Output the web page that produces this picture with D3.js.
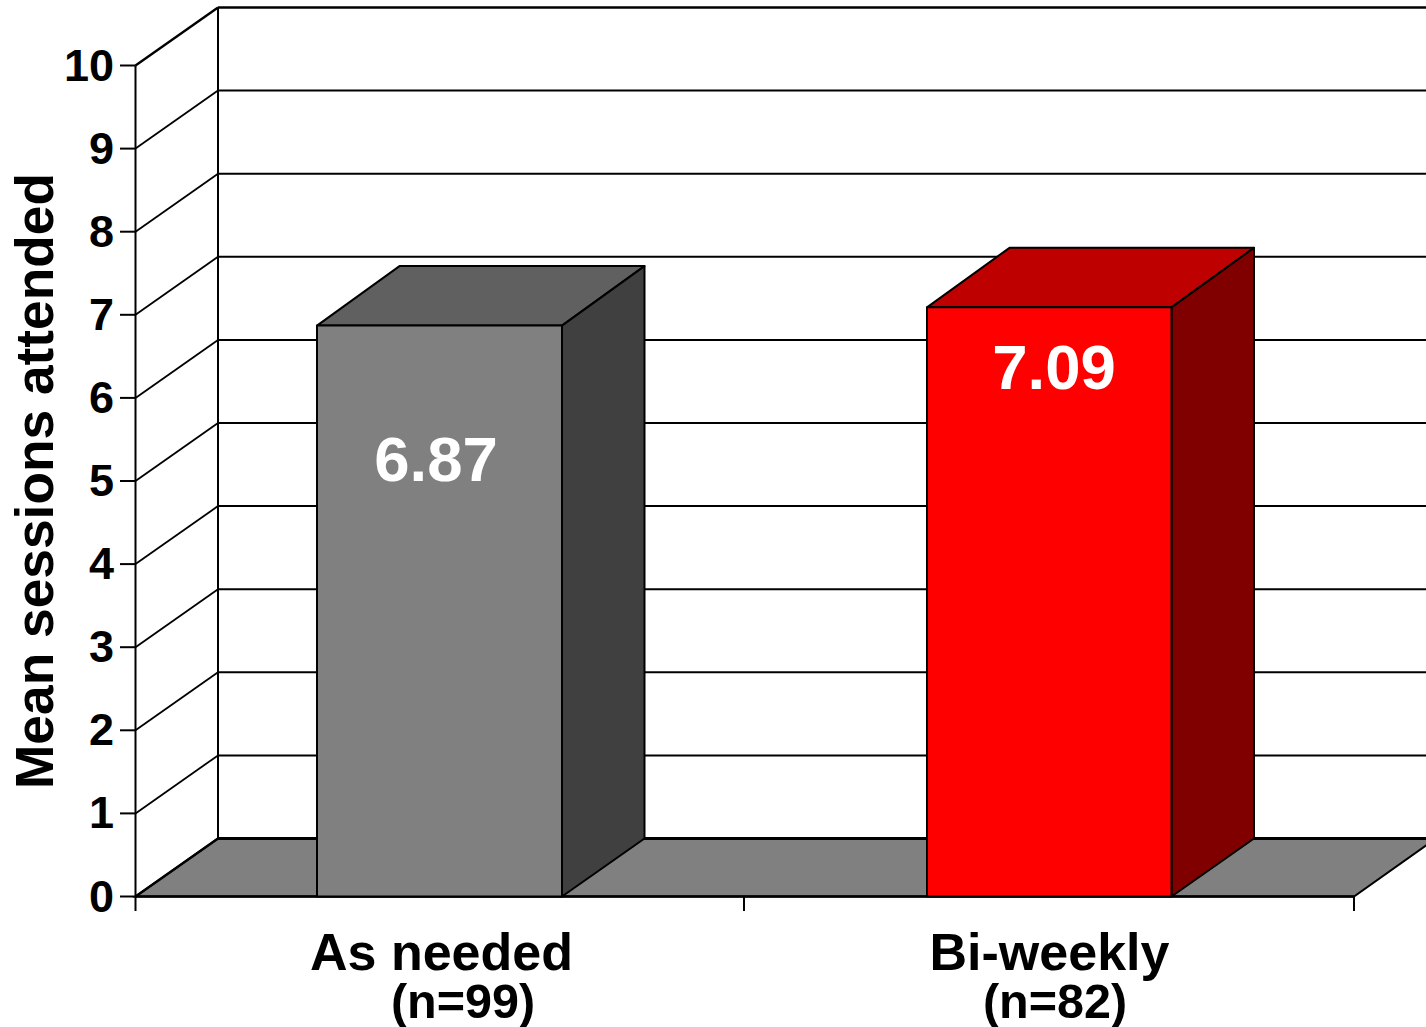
<!DOCTYPE html>
<html><head><meta charset="utf-8">
<script src="https://cdnjs.cloudflare.com/ajax/libs/d3/7.8.5/d3.min.js"></script>
<style>html,body{margin:0;padding:0;background:#fff;overflow:hidden}svg{display:block}text{font-family:"Liberation Sans",Arial,sans-serif;font-weight:700}</style>
</head><body><svg id="c" width="1426" height="1027"></svg>
<script>
const categories=["As needed","Bi-weekly"];
const sampleLabels=["(n=99)","(n=82)"];
const values=[6.87,7.09];
const valueLabels=["6.87","7.09"];
const ticks=[0,1,2,3,4,5,6,7,8,9,10];
const frontColors=["#808080","#ff0000"];
const topColors=["#606060","#bf0000"];
const sideColors=["#404040","#800000"];

const svg=d3.select("#c");
const y=d3.scaleLinear().domain([0,10]).range([896.5,65.5]);
const dx=82.5,dy=-58,barDy=-59.5;
const rightEdge=1426;
const line=(a,b,c,d,w=2)=>svg.append("line").attr("x1",a).attr("y1",b).attr("x2",c).attr("y2",d).attr("stroke","#000").attr("stroke-width",w);

// floor
svg.append("polygon").attr("fill","#808080").attr("stroke","#000").attr("stroke-width",2)
 .attr("points",[[135.5,y(0)],[135.5+dx,y(0)+dy],[1436,y(0)+dy],[1354,y(0)]].join(" "));
line(135.5+dx,y(0)+dy,rightEdge,y(0)+dy,3);

// back wall gridlines and side wall
ticks.forEach(t=>{
  if(t>0) line(135.5+dx,y(t)+dy,rightEdge,y(t)+dy,t===10?2.6:2);
  line(135.5,y(t),135.5+dx,y(t)+dy,t===10||t===0?2.4:1.8);
  line(120,y(t),135.5,y(t),2);
});
line(135.5,y(0),135.5,y(10),2);
line(135.5+dx,y(0)+dy,135.5+dx,y(10)+dy,2);
line(135.5,y(0),1354,y(0),2.4);

// axis ticks
[135.5,744,1354].forEach(v=>line(v,y(0),v,911,2));

// y tick labels
svg.selectAll(".yl").data(ticks).join("text").attr("class","yl")
 .attr("x",114).attr("y",d=>y(d)+15).attr("text-anchor","end").attr("font-size",45).attr("fill","#000").text(d=>d);

// bars
const barX=[317,927],barW=[245,244.5];
values.forEach((v,i)=>{
  const x0=barX[i],x1=barX[i]+barW[i],yt=y(v),yb=y(0);
  const g=svg.append("g").attr("stroke","#000").attr("stroke-width",2).attr("stroke-linejoin","round");
  g.append("polygon").attr("fill",topColors[i]).attr("points",[[x0,yt],[x0+dx,yt+barDy],[x1+dx,yt+barDy],[x1,yt]].join(" "));
  g.append("polygon").attr("fill",sideColors[i]).attr("points",[[x1,yt],[x1+dx,yt+barDy],[x1+dx,yb+dy],[x1,yb]].join(" "));
  g.append("rect").attr("x",x0).attr("y",yt).attr("width",barW[i]).attr("height",yb-yt).attr("fill",frontColors[i]);
});

// value labels
const labelPos=[[436,481],[1054,389]];
values.forEach((v,i)=>svg.append("text").attr("x",labelPos[i][0]).attr("y",labelPos[i][1]).attr("text-anchor","middle").attr("font-size",63.5).attr("fill","#fff").text(valueLabels[i]));

// category labels
const catX=[441.5,1049.5],nX=[463,1055];
categories.forEach((c,i)=>{
  svg.append("text").attr("x",catX[i]).attr("y",970).attr("text-anchor","middle").attr("font-size",52).attr("fill","#000").text(c);
  svg.append("text").attr("x",nX[i]).attr("y",1018).attr("text-anchor","middle").attr("font-size",48.5).attr("fill","#000").text(sampleLabels[i]);
});

// axis title
svg.append("text").attr("transform","translate(53,481) rotate(-90)").attr("text-anchor","middle").attr("font-size",53.3).attr("fill","#000").text("Mean sessions attended");
</script></body></html>
